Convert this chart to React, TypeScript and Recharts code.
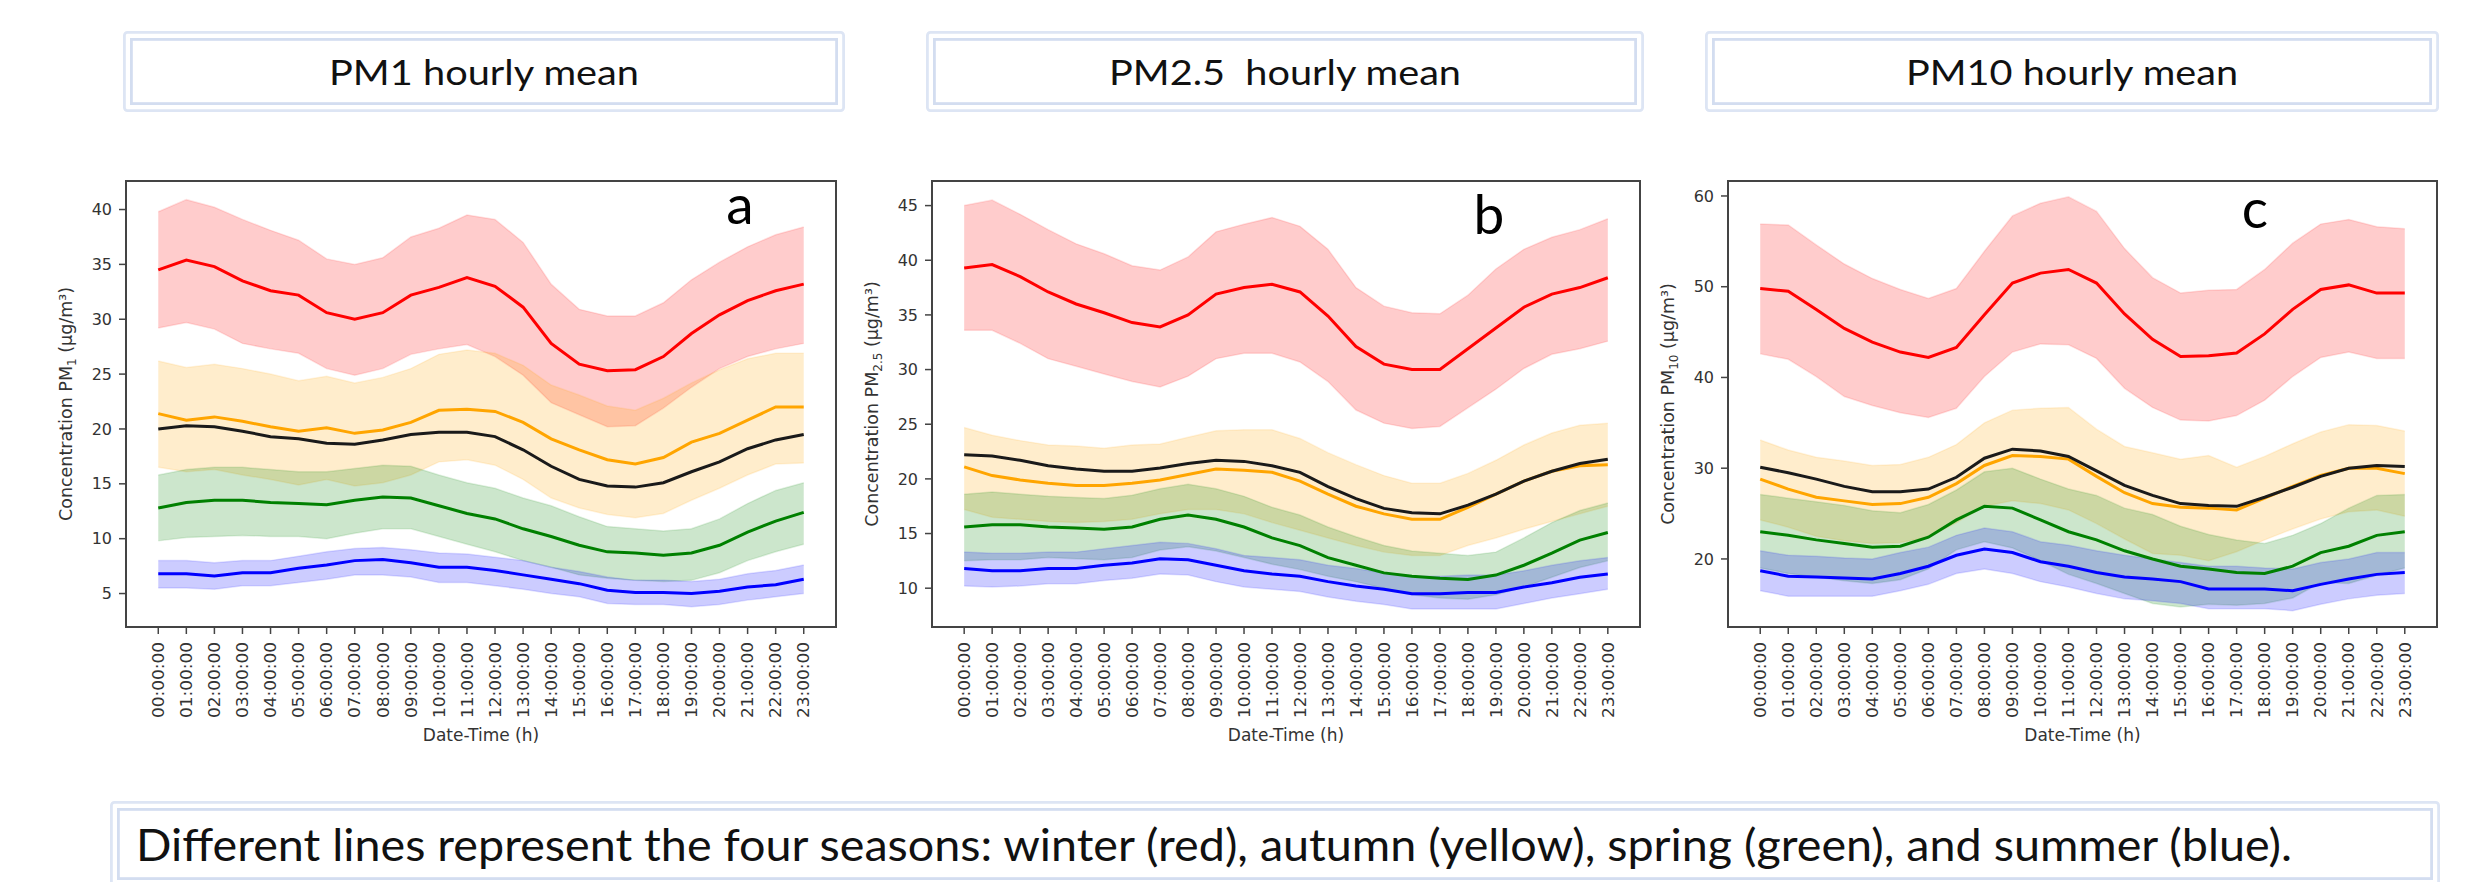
import React from 'react';
import { ComposedChart, Area, Line, XAxis, YAxis, ReferenceArea } from 'recharts';

// ---------- categories / tick labels ----------
const hours = [0, 1, 2, 3, 4, 5, 6, 7, 8, 9, 10, 11, 12, 13, 14, 15, 16, 17, 18, 19, 20, 21, 22, 23];
const hourLabels = [
  '00:00:00', '01:00:00', '02:00:00', '03:00:00', '04:00:00', '05:00:00', '06:00:00', '07:00:00',
  '08:00:00', '09:00:00', '10:00:00', '11:00:00', '12:00:00', '13:00:00', '14:00:00', '15:00:00',
  '16:00:00', '17:00:00', '18:00:00', '19:00:00', '20:00:00', '21:00:00', '22:00:00', '23:00:00',
];
const pm1Ticks = [5, 10, 15, 20, 25, 30, 35, 40];
const pm25Ticks = [10, 15, 20, 25, 30, 35, 40, 45];
const pm10Ticks = [20, 30, 40, 50, 60];
const titles = ['PM1 hourly mean', 'PM2.5  hourly mean', 'PM10 hourly mean'];
const panelLetters = ['a', 'b', 'c'];
const caption = 'Different lines represent the four seasons: winter (red), autumn (yellow), spring (green), and summer (blue).';

// ---------- PM1 ----------
const pm1WinterMean = [34.5, 35.4, 34.8, 33.5, 32.6, 32.2, 30.6, 30.0, 30.6, 32.2, 32.9, 33.8, 33.0, 31.1, 27.8, 25.9, 25.3, 25.4, 26.6, 28.7, 30.4, 31.7, 32.6, 33.2];
const pm1WinterHigh = [39.8, 40.9, 40.2, 39.1, 38.1, 37.2, 35.5, 35.0, 35.6, 37.5, 38.3, 39.5, 39.1, 37.0, 33.2, 30.9, 30.3, 30.3, 31.5, 33.6, 35.2, 36.6, 37.7, 38.4];
const pm1WinterLow = [29.2, 29.7, 29.1, 27.8, 27.3, 26.9, 25.5, 24.9, 25.5, 26.8, 27.3, 27.7, 26.6, 24.9, 22.4, 21.3, 20.2, 20.3, 21.9, 23.8, 25.5, 26.6, 27.3, 27.8];
const pm1AutumnMean = [21.4, 20.8, 21.1, 20.7, 20.2, 19.8, 20.1, 19.6, 19.9, 20.6, 21.7, 21.8, 21.6, 20.6, 19.1, 18.1, 17.2, 16.8, 17.4, 18.8, 19.6, 20.8, 22.0, 22.0];
const pm1AutumnHigh = [26.2, 25.6, 25.9, 25.5, 25.0, 24.4, 24.8, 24.2, 24.7, 25.5, 26.8, 27.2, 26.9, 25.8, 24.0, 23.1, 22.1, 21.7, 22.8, 24.2, 25.4, 26.4, 26.9, 26.9];
const pm1AutumnLow = [16.5, 16.1, 16.3, 15.8, 15.4, 14.9, 15.4, 14.8, 15.1, 15.8, 17.0, 17.2, 16.7, 15.4, 13.7, 12.8, 12.2, 11.9, 12.3, 13.5, 14.6, 15.8, 16.8, 16.9];
const pm1AnnualMean = [20.0, 20.3, 20.2, 19.8, 19.3, 19.1, 18.7, 18.6, 19.0, 19.5, 19.7, 19.7, 19.3, 18.1, 16.6, 15.4, 14.8, 14.7, 15.1, 16.1, 17.0, 18.2, 19.0, 19.5];
const pm1SpringMean = [12.8, 13.3, 13.5, 13.5, 13.3, 13.2, 13.1, 13.5, 13.8, 13.7, 13.0, 12.3, 11.8, 10.9, 10.2, 9.4, 8.8, 8.7, 8.5, 8.7, 9.4, 10.6, 11.6, 12.4];
const pm1SpringHigh = [15.8, 16.3, 16.5, 16.5, 16.3, 16.1, 16.1, 16.4, 16.7, 16.6, 15.8, 15.1, 14.6, 13.7, 13.0, 12.0, 11.1, 10.9, 10.7, 10.9, 11.8, 13.2, 14.4, 15.1];
const pm1SpringLow = [9.8, 10.1, 10.2, 10.3, 10.2, 10.2, 10.0, 10.5, 10.9, 10.9, 10.2, 9.5, 8.8, 8.0, 7.4, 6.7, 6.4, 6.2, 6.1, 6.2, 6.9, 8.0, 8.8, 9.5];
const pm1SummerMean = [6.8, 6.8, 6.6, 6.9, 6.9, 7.3, 7.6, 8.0, 8.1, 7.8, 7.4, 7.4, 7.1, 6.7, 6.3, 5.9, 5.3, 5.1, 5.1, 5.0, 5.2, 5.6, 5.8, 6.3];
const pm1SummerHigh = [8.0, 8.0, 7.8, 8.0, 8.0, 8.4, 8.8, 9.1, 9.2, 9.0, 8.7, 8.6, 8.3, 8.0, 7.4, 7.0, 6.5, 6.2, 6.2, 6.1, 6.3, 6.8, 7.1, 7.6];
const pm1SummerLow = [5.5, 5.5, 5.4, 5.7, 5.7, 6.0, 6.3, 6.7, 6.7, 6.5, 6.0, 6.0, 5.7, 5.4, 5.0, 4.7, 4.1, 4.0, 4.0, 3.8, 4.0, 4.4, 4.7, 5.0];

// ---------- PM2.5 ----------
const pm25WinterMean = [39.3, 39.6, 38.5, 37.1, 36.0, 35.2, 34.3, 33.9, 35.0, 36.9, 37.5, 37.8, 37.1, 34.9, 32.1, 30.5, 30.0, 30.0, 31.9, 33.8, 35.7, 36.9, 37.5, 38.4];
const pm25WinterHigh = [45.0, 45.5, 44.2, 42.8, 41.5, 40.6, 39.5, 39.1, 40.3, 42.6, 43.3, 43.9, 43.1, 41.0, 37.5, 35.8, 35.2, 35.1, 36.8, 39.2, 41.0, 42.1, 42.8, 43.8];
const pm25WinterLow = [33.6, 33.6, 32.4, 31.0, 30.3, 29.6, 28.9, 28.4, 29.4, 31.0, 31.5, 31.5, 30.7, 28.9, 26.3, 25.1, 24.6, 24.8, 26.5, 28.2, 30.1, 31.4, 31.9, 32.6];
const pm25AutumnMean = [21.1, 20.3, 19.9, 19.6, 19.4, 19.4, 19.6, 19.9, 20.4, 20.9, 20.8, 20.6, 19.8, 18.6, 17.5, 16.8, 16.3, 16.3, 17.4, 18.6, 19.8, 20.7, 21.2, 21.3];
const pm25AutumnHigh = [24.7, 24.0, 23.5, 23.1, 23.0, 22.8, 23.1, 23.2, 23.8, 24.4, 24.5, 24.5, 23.7, 22.4, 21.3, 20.3, 19.6, 19.6, 20.5, 21.7, 23.1, 24.2, 24.9, 25.1];
const pm25AutumnLow = [17.2, 16.5, 16.3, 16.1, 16.0, 16.1, 16.3, 16.8, 17.2, 17.2, 16.8, 16.0, 15.3, 14.6, 13.9, 13.3, 13.0, 13.0, 13.9, 14.6, 15.4, 16.1, 16.8, 17.5];
const pm25AnnualMean = [22.2, 22.1, 21.7, 21.2, 20.9, 20.7, 20.7, 21.0, 21.4, 21.7, 21.6, 21.2, 20.6, 19.3, 18.2, 17.3, 16.9, 16.8, 17.6, 18.6, 19.8, 20.7, 21.4, 21.8];
const pm25SpringMean = [15.6, 15.8, 15.8, 15.6, 15.5, 15.4, 15.6, 16.3, 16.7, 16.3, 15.6, 14.6, 13.9, 12.8, 12.1, 11.4, 11.1, 10.9, 10.8, 11.2, 12.1, 13.2, 14.4, 15.1];
const pm25SpringHigh = [18.6, 18.8, 18.6, 18.4, 18.3, 18.2, 18.5, 19.1, 19.5, 19.1, 18.4, 17.4, 16.7, 15.6, 14.7, 13.9, 13.4, 13.2, 13.0, 13.3, 14.6, 16.0, 17.1, 17.8];
const pm25SpringLow = [12.5, 12.6, 12.6, 12.8, 12.7, 12.6, 12.8, 13.5, 13.8, 13.4, 12.8, 12.2, 11.7, 11.1, 10.6, 10.0, 9.4, 9.1, 9.0, 9.4, 10.1, 11.0, 11.9, 12.5];
const pm25SummerMean = [11.8, 11.6, 11.6, 11.8, 11.8, 12.1, 12.3, 12.7, 12.6, 12.1, 11.6, 11.3, 11.1, 10.6, 10.2, 9.9, 9.5, 9.5, 9.6, 9.6, 10.1, 10.5, 11.0, 11.3];
const pm25SummerHigh = [13.3, 13.2, 13.2, 13.3, 13.3, 13.6, 13.9, 14.2, 14.1, 13.6, 13.0, 12.8, 12.6, 12.1, 11.8, 11.4, 11.1, 11.1, 11.2, 11.2, 11.6, 12.1, 12.5, 12.8];
const pm25SummerLow = [10.2, 10.1, 10.2, 10.4, 10.4, 10.7, 10.9, 11.3, 11.2, 10.6, 10.1, 9.9, 9.7, 9.2, 8.8, 8.5, 8.1, 8.1, 8.1, 8.1, 8.6, 9.1, 9.5, 9.9];

// ---------- PM10 ----------
const pm10WinterMean = [49.8, 49.5, 47.5, 45.4, 43.9, 42.8, 42.2, 43.3, 46.9, 50.4, 51.5, 51.9, 50.4, 47.0, 44.2, 42.3, 42.4, 42.7, 44.8, 47.5, 49.7, 50.2, 49.3, 49.3];
const pm10WinterHigh = [56.9, 56.8, 54.6, 52.5, 50.9, 49.7, 48.7, 49.8, 53.9, 57.8, 59.2, 59.9, 58.3, 54.2, 51.0, 49.3, 49.6, 49.7, 51.9, 54.8, 56.9, 57.4, 56.6, 56.4];
const pm10WinterLow = [42.6, 42.0, 40.1, 37.9, 36.9, 36.1, 35.6, 36.6, 40.1, 42.8, 43.7, 43.6, 42.1, 38.8, 36.7, 35.3, 35.2, 35.8, 37.5, 40.1, 42.2, 42.8, 42.1, 42.1];
const pm10AutumnMean = [28.8, 27.7, 26.8, 26.4, 26.0, 26.1, 26.8, 28.3, 30.3, 31.4, 31.3, 31.0, 29.1, 27.3, 26.1, 25.7, 25.6, 25.4, 26.7, 28.0, 29.2, 30.0, 30.0, 29.4];
const pm10AutumnHigh = [33.1, 32.0, 31.2, 30.8, 30.3, 30.4, 31.2, 32.6, 35.0, 36.4, 36.6, 36.7, 34.3, 32.4, 31.7, 31.0, 31.4, 30.1, 31.3, 32.7, 34.0, 34.8, 34.7, 34.1];
const pm10AutumnLow = [24.3, 23.5, 22.5, 22.0, 21.7, 21.8, 22.4, 24.0, 25.8, 26.4, 26.1, 25.4, 23.9, 22.2, 20.6, 20.4, 19.8, 20.8, 22.1, 23.3, 24.4, 25.2, 25.4, 24.7];
const pm10AnnualMean = [30.1, 29.5, 28.8, 28.0, 27.4, 27.4, 27.7, 29.0, 31.1, 32.1, 31.9, 31.3, 29.7, 28.1, 27.0, 26.1, 25.9, 25.8, 26.8, 27.9, 29.1, 30.0, 30.3, 30.2];
const pm10SpringMean = [23.0, 22.6, 22.1, 21.7, 21.3, 21.4, 22.4, 24.3, 25.8, 25.6, 24.3, 23.0, 22.1, 20.9, 20.0, 19.2, 18.9, 18.5, 18.4, 19.2, 20.7, 21.4, 22.6, 23.0];
const pm10SpringHigh = [27.1, 26.7, 26.3, 25.9, 25.3, 25.1, 26.0, 27.6, 29.6, 30.0, 28.8, 27.7, 27.0, 25.6, 24.9, 23.6, 22.7, 22.1, 21.7, 22.6, 23.9, 25.6, 27.0, 27.1];
const pm10SpringLow = [19.0, 18.4, 18.0, 17.6, 17.3, 17.7, 18.9, 21.0, 21.9, 21.2, 19.8, 18.3, 17.3, 16.2, 15.1, 14.7, 15.0, 14.9, 15.1, 15.7, 17.4, 17.3, 18.2, 19.0];
const pm10SummerMean = [18.7, 18.1, 18.0, 17.9, 17.8, 18.4, 19.2, 20.4, 21.1, 20.7, 19.7, 19.2, 18.5, 18.0, 17.8, 17.5, 16.7, 16.7, 16.7, 16.5, 17.2, 17.8, 18.3, 18.5];
const pm10SummerHigh = [20.9, 20.4, 20.3, 20.1, 20.0, 20.7, 21.3, 22.6, 23.4, 23.0, 21.9, 21.5, 20.9, 20.4, 20.0, 19.6, 19.2, 19.2, 19.0, 18.9, 19.6, 20.0, 20.7, 20.7];
const pm10SummerLow = [16.5, 15.9, 15.9, 15.9, 15.9, 16.5, 17.2, 18.4, 18.9, 18.4, 17.5, 16.9, 16.2, 15.6, 15.4, 15.1, 14.5, 14.5, 14.5, 14.3, 15.0, 15.6, 16.0, 16.2];

// ---------- layout ----------
const FONT_AX = "'DejaVu Sans', sans-serif";
const FONT_DOC = "Lato, 'Open Sans', sans-serif";
const Y_AXIS_W = 100;
const CHART_TOP = 150;
const CHART_H = 620;
const M_TOP = 31;
const M_RIGHT = 10;
const M_BOTTOM = 33;
const X_AXIS_H = 110;
const PLOT_H = CHART_H - M_TOP - M_BOTTOM - X_AXIS_H;
const X_DOMAIN: [number, number] = [-1.15, 24.15];
const AX_COLOR = '#444';
const TXT_COLOR = '#333';

const COLORS = { winter: '#ff0000', autumn: '#ffa500', spring: '#008000', summer: '#0000ff', annual: '#1a1a1a' };

type Series = { mean: number[]; low: number[]; high: number[] };
type PanelDef = {
  plotLeft: number;
  plotWidth: number;
  domain: [number, number];
  ticks: number[];
  sub: string;
  winter: Series;
  autumn: Series;
  spring: Series;
  summer: Series;
  annual: number[];
};

const panels: PanelDef[] = [
  {
    plotLeft: 126, plotWidth: 710, domain: [1.95, 42.6], ticks: pm1Ticks, sub: '1',
    winter: { mean: pm1WinterMean, low: pm1WinterLow, high: pm1WinterHigh },
    autumn: { mean: pm1AutumnMean, low: pm1AutumnLow, high: pm1AutumnHigh },
    spring: { mean: pm1SpringMean, low: pm1SpringLow, high: pm1SpringHigh },
    summer: { mean: pm1SummerMean, low: pm1SummerLow, high: pm1SummerHigh },
    annual: pm1AnnualMean,
  },
  {
    plotLeft: 932, plotWidth: 708, domain: [6.45, 47.25], ticks: pm25Ticks, sub: '2.5',
    winter: { mean: pm25WinterMean, low: pm25WinterLow, high: pm25WinterHigh },
    autumn: { mean: pm25AutumnMean, low: pm25AutumnLow, high: pm25AutumnHigh },
    spring: { mean: pm25SpringMean, low: pm25SpringLow, high: pm25SpringHigh },
    summer: { mean: pm25SummerMean, low: pm25SummerLow, high: pm25SummerHigh },
    annual: pm25AnnualMean,
  },
  {
    plotLeft: 1728, plotWidth: 709, domain: [12.5, 61.65], ticks: pm10Ticks, sub: '10',
    winter: { mean: pm10WinterMean, low: pm10WinterLow, high: pm10WinterHigh },
    autumn: { mean: pm10AutumnMean, low: pm10AutumnLow, high: pm10AutumnHigh },
    spring: { mean: pm10SpringMean, low: pm10SpringLow, high: pm10SpringHigh },
    summer: { mean: pm10SummerMean, low: pm10SummerLow, high: pm10SummerHigh },
    annual: pm10AnnualMean,
  },
];

function buildRows(p: PanelDef) {
  return hours.map((h, i) => ({
    h,
    winterBand: [p.winter.low[i], p.winter.high[i]],
    autumnBand: [p.autumn.low[i], p.autumn.high[i]],
    springBand: [p.spring.low[i], p.spring.high[i]],
    summerBand: [p.summer.low[i], p.summer.high[i]],
    winterMean: p.winter.mean[i],
    autumnMean: p.autumn.mean[i],
    springMean: p.spring.mean[i],
    summerMean: p.summer.mean[i],
    annualMean: p.annual[i],
  }));
}

const XTick = (props: any) => {
  const { x, y, payload } = props;
  const idx = hours.indexOf(payload.value);
  return (
    <text
      transform={`translate(${x},${y}) rotate(-90) scale(1.06,1)`}
      textAnchor="end"
      dy="0.36em"
      fontSize={16}
      fontFamily={FONT_AX}
      fill={TXT_COLOR}
    >
      {hourLabels[idx]}
    </text>
  );
};

function Panel({ p }: { p: PanelDef }) {
  const rows = buildRows(p);
  const width = Y_AXIS_W + p.plotWidth + M_RIGHT;
  const bands: [string, string][] = [
    ['winterBand', COLORS.winter],
    ['autumnBand', COLORS.autumn],
    ['springBand', COLORS.spring],
    ['summerBand', COLORS.summer],
  ];
  const lines: [string, string][] = [
    ['winterMean', COLORS.winter],
    ['autumnMean', COLORS.autumn],
    ['springMean', COLORS.spring],
    ['summerMean', COLORS.summer],
    ['annualMean', COLORS.annual],
  ];
  const yLabel = () => (
    <text
      transform={`translate(${Y_AXIS_W - 60},${M_TOP + PLOT_H / 2}) rotate(-90)`}
      textAnchor="middle"
      dy="0.36em"
      fontSize={17.5}
      fontFamily={FONT_AX}
      fill={TXT_COLOR}
    >
      Concentration PM
      <tspan fontSize={12} dy={4}>{p.sub}</tspan>
      <tspan dy={-4}>{' (µg/m³)'}</tspan>
    </text>
  );
  const xLabel = () => (
    <text
      x={Y_AXIS_W + p.plotWidth / 2}
      y={M_TOP + PLOT_H + 114}
      textAnchor="middle"
      fontSize={17}
      fontFamily={FONT_AX}
      fill={TXT_COLOR}
    >
      Date-Time (h)
    </text>
  );
  return (
    <div style={{ position: 'absolute', left: p.plotLeft - Y_AXIS_W, top: CHART_TOP }}>
      <ComposedChart
        width={width}
        height={CHART_H}
        data={rows}
        margin={{ top: M_TOP, right: M_RIGHT, bottom: M_BOTTOM, left: 0 }}
      >
        <XAxis
          dataKey="h"
          type="number"
          domain={X_DOMAIN}
          ticks={hours}
          interval={0}
          allowDataOverflow
          height={X_AXIS_H}
          tickSize={7}
          tickMargin={8}
          tick={(tp: any) => <XTick {...tp} />}
          axisLine={{ stroke: AX_COLOR, strokeWidth: 2 }}
          tickLine={{ stroke: AX_COLOR, strokeWidth: 1.5 }}
          label={{ content: xLabel }}
        />
        <YAxis
          type="number"
          domain={p.domain}
          ticks={p.ticks}
          allowDataOverflow
          width={Y_AXIS_W}
          tickSize={7}
          tickMargin={7}
          tick={{ fontSize: 16, fontFamily: FONT_AX, fill: TXT_COLOR }}
          axisLine={{ stroke: AX_COLOR, strokeWidth: 2 }}
          tickLine={{ stroke: AX_COLOR, strokeWidth: 1.5 }}
          label={{ content: yLabel }}
        />
        {bands.map(([key, color]) => (
          <Area
            key={key}
            dataKey={key}
            type="linear"
            stroke={color}
            strokeOpacity={0.12}
            strokeWidth={1.5}
            fill={color}
            fillOpacity={0.2}
            isAnimationActive={false}
            dot={false}
            activeDot={false}
          />
        ))}
        {lines.map(([key, color]) => (
          <Line
            key={key}
            dataKey={key}
            type="linear"
            stroke={color}
            strokeWidth={3}
            dot={false}
            activeDot={false}
            isAnimationActive={false}
          />
        ))}
        <ReferenceArea
          x1={X_DOMAIN[0]}
          x2={X_DOMAIN[1]}
          y1={p.domain[0]}
          y2={p.domain[1]}
          fill="none"
          stroke={AX_COLOR}
          strokeWidth={2}
          ifOverflow="visible"
        />
      </ComposedChart>
    </div>
  );
}

const titleBoxes = [
  { x: 123, w: 722, textW: 310 },
  { x: 926, w: 718, textW: 352 },
  { x: 1705, w: 734, textW: 332 },
];
const letterPos = [
  { x: 740, y: 224 },
  { x: 1489, y: 234 },
  { x: 2255, y: 228 },
];

function DoubleBox({ x, y, w, h }: { x: number; y: number; w: number; h: number }) {
  return (
    <g fill="none">
      <rect x={x + 1.4} y={y + 1.4} width={w - 2.8} height={h - 2.8} stroke="#dde5f4" strokeWidth={2.8} rx={3} />
      <rect x={x + 8.4} y={y + 8.4} width={w - 16.8} height={h - 16.8} stroke="#d3ddf0" strokeWidth={2.8} />
    </g>
  );
}

export default function App() {
  return (
    <div style={{ position: 'absolute', left: 0, top: 0, width: 2472, height: 882, background: '#ffffff', overflow: 'hidden' }}>
      {panels.map((p, i) => (
        <Panel key={i} p={p} />
      ))}
      <svg width={2472} height={882} style={{ position: 'absolute', left: 0, top: 0, pointerEvents: 'none' }}>
        {titleBoxes.map((b, i) => (
          <g key={i}>
            <DoubleBox x={b.x} y={31} w={b.w} h={81} />
            <text
              x={b.x + b.w / 2}
              y={85}
              textAnchor="middle"
              fontSize={35}
              fontFamily={FONT_DOC}
              fill="#111"
              textLength={b.textW}
              lengthAdjust="spacingAndGlyphs"
              style={{ whiteSpace: 'pre' }}
            >
              {titles[i]}
            </text>
          </g>
        ))}
        {letterPos.map((l, i) => (
          <text key={i} x={l.x} y={l.y} textAnchor="middle" fontSize={55} fontFamily={FONT_DOC} fill="#000">
            {panelLetters[i]}
          </text>
        ))}
        <DoubleBox x={110} y={801} w={2330} h={86} />
        <text
          x={136}
          y={861}
          fontSize={45}
          fontFamily={FONT_DOC}
          fill="#111"
          textLength={2156}
          lengthAdjust="spacingAndGlyphs"
        >
          {caption}
        </text>
      </svg>
    </div>
  );
}
